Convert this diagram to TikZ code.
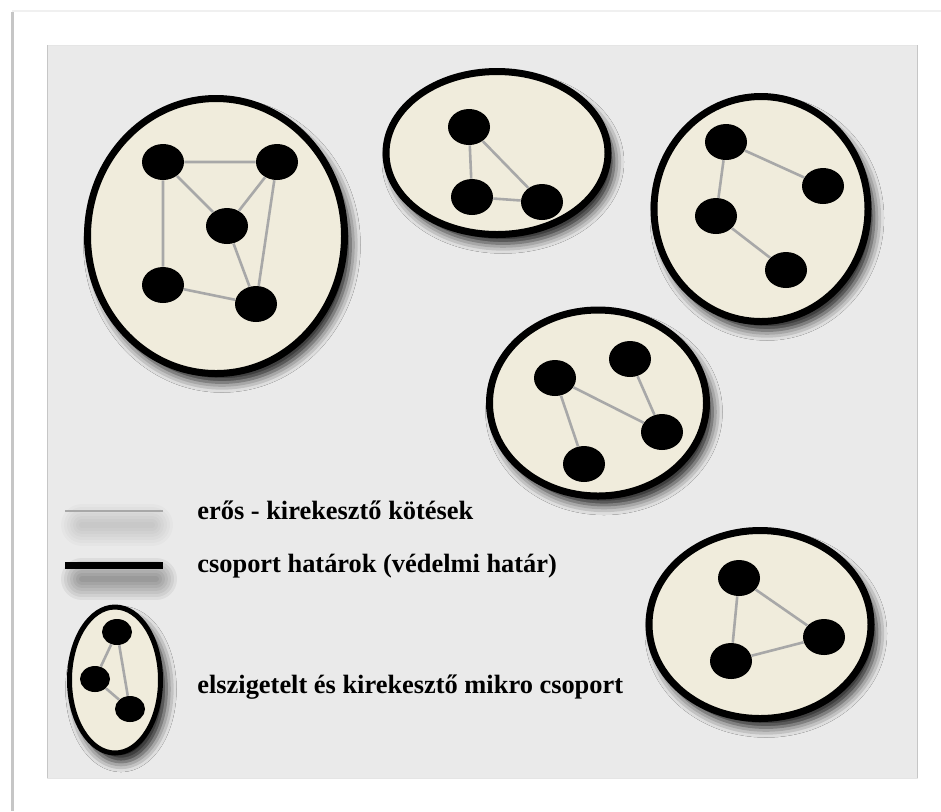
\documentclass[tikz,border=0pt]{standalone}
\usepackage{fontspec}
\setmainfont{Liberation Serif}
\usetikzlibrary{shapes.geometric,shadows.blur}
\definecolor{GroupFill}{HTML}{F0ECDC}
\definecolor{LinkGray}{HTML}{A8A8A8}
\definecolor{PanelGray}{HTML}{EAEAEA}

\begin{document}
\begin{tikzpicture}[x=0.5pt,y=-0.5pt,line join=round,
  group/.style={ellipse,draw=black,line width=3.5pt,fill=GroupFill,inner sep=0pt,
    blur shadow={shadow xshift=3pt,shadow yshift=-4.5pt,shadow blur radius=5pt,shadow opacity=90}},
  dot/.style={ellipse,fill=black,inner sep=0pt,minimum width=21pt,minimum height=18pt},
  small dot/.style={dot,minimum width=15pt,minimum height=13pt},
  link/.style={draw=LinkGray,line width=1.3pt},
  soft shade/.style={black,line cap=round,line width=#1pt},
  legend text/.style={anchor=base west,inner sep=0pt,font=\fontsize{13.2}{15}\selectfont\bfseries}]
  \useasboundingbox (0,0) rectangle (941,811);

  % page and panel
  \fill[white] (0,0) rectangle (941,811);
  \draw[gray!12,line width=1pt] (12,11) -- (941,11);
  \draw[gray!45,line width=1.5pt] (12,12) -- (12,811);
  \fill[PanelGray] (47,45) rectangle (917,778);
  \draw[gray!20] (47,45) rectangle (917,778);
  \draw[gray!45] (47,45) -- (47,778) (917,45) -- (917,778);

  % groups
  \node[group,minimum width=128.5pt,minimum height=137.5pt] (g1) at (216,236) {};
  \node[group,minimum width=111pt,minimum height=81.5pt] (g2) at (497,153) {};
  \node[group,minimum width=107pt,minimum height=112.5pt] (g3) at (761,209) {};
  \node[group,minimum width=108.5pt,minimum height=93pt] (g4) at (598,403) {};
  \node[group,minimum width=111pt,minimum height=94pt] (g5) at (760,624.5) {};
  \node[group,line width=2.5pt,minimum width=45.5pt,minimum height=73pt] (g6) at (115,680) {};

  % members
  \node[dot] (a1) at (163,162) {};
  \node[dot] (a2) at (277,162) {};
  \node[dot] (a3) at (227,226) {};
  \node[dot] (a4) at (163,285) {};
  \node[dot] (a5) at (256,304) {};

  \node[dot] (b1) at (469,127) {};
  \node[dot] (b2) at (472,197) {};
  \node[dot] (b3) at (542,202) {};

  \node[dot] (c1) at (726,142) {};
  \node[dot] (c2) at (823,186) {};
  \node[dot] (c3) at (716,216) {};
  \node[dot] (c4) at (786,270) {};

  \node[dot] (d1) at (555,378) {};
  \node[dot] (d2) at (630,359) {};
  \node[dot] (d3) at (662,432) {};
  \node[dot] (d4) at (584,464) {};

  \node[dot] (e1) at (739,578) {};
  \node[dot] (e2) at (824,637) {};
  \node[dot] (e3) at (731,661) {};

  \node[small dot] (f1) at (117,632) {};
  \node[small dot] (f2) at (95,679) {};
  \node[small dot] (f3) at (130,709) {};

  % ties
  \draw[link] (a1) -- (a2) (a1) -- (a3) (a2) -- (a3) (a1) -- (a4)
              (a2) -- (a5) (a3) -- (a5) (a4) -- (a5);
  \draw[link] (b1) -- (b2) (b1) -- (b3) (b2) -- (b3);
  \draw[link] (c1) -- (c2) (c1) -- (c3) (c3) -- (c4);
  \draw[link] (d1) -- (d3) (d1) -- (d4) (d2) -- (d3);
  \draw[link] (e1) -- (e2) (e1) -- (e3) (e2) -- (e3);
  \draw[link] (f1) -- (f2) (f1) -- (f3) (f2) -- (f3);

  % legend
  \coordinate (tieL) at (65,511);
  \coordinate (tieR) at (163,511);
  \coordinate (edgeL) at (65,565);
  \coordinate (edgeR) at (163,565);
  \foreach \w in {3,6,...,21}
    \draw[soft shade=\w,opacity=0.02] (82,525) -- (152,525);
  \foreach \w in {3,6,...,21}
    \draw[soft shade=\w,opacity=0.055] (82,579) -- (156,579);
  \draw[link] (tieL) -- (tieR);
  \draw[line width=3.5pt] (edgeL) -- (edgeR);

  \node[legend text] (t1) at (197,519) {erős - kirekesztő kötések};
  \node[legend text] (t2) at (197,572) {csoport határok (védelmi határ)};
  \node[legend text] (t3) at (197,693) {elszigetelt és kirekesztő mikro csoport};
\end{tikzpicture}
\end{document}
